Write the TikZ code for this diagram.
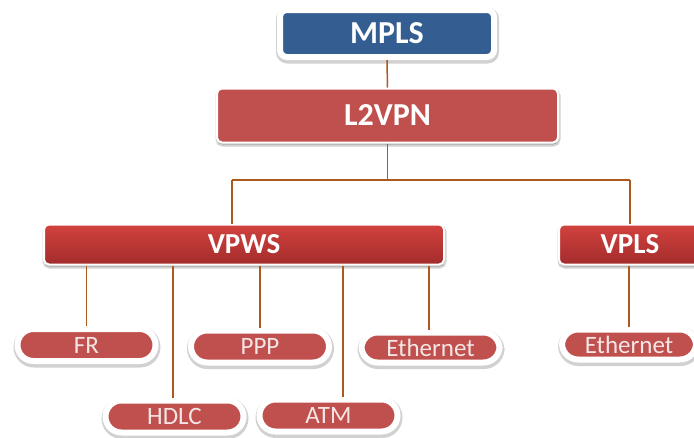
\documentclass[tikz,border=0pt]{standalone}
\usepackage{fontspec}
\setmainfont{Carlito}
\usetikzlibrary{shadows}
\definecolor{mplsblue}{RGB}{52,94,145}
\definecolor{boxred}{RGB}{192,80,77}
\definecolor{gradtop}{RGB}{210,66,62}
\definecolor{gradbot}{RGB}{163,44,44}
\definecolor{pilltext}{RGB}{245,230,230}
\definecolor{linkbrown}{RGB}{172,88,30}
\tikzset{
  myshadow/.style={drop shadow={shadow xshift=0.5pt, shadow yshift=-2pt, opacity=0.18, fill=black, draw=black, line width=#1}},
  topbox/.style={rounded corners=5pt, draw=white, text=white, inner sep=0pt,
    font=\bfseries\fontsize{32}{32}\selectfont},
  midbox/.style={myshadow=4pt, rounded corners=5pt, draw=white, line width=2pt, text=white, inner sep=0pt,
    top color=gradtop, bottom color=gradbot, minimum height=40pt,
    font=\bfseries\fontsize{29}{29}\selectfont},
  pill/.style={myshadow=9pt, rounded corners=16pt, draw=white, line width=6pt, fill=boxred,
    text=pilltext, inner sep=0pt, minimum width=138pt, minimum height=32pt,
    font=\fontsize{25}{25}\selectfont},
  link/.style={draw=linkbrown, line width=1.5pt}
}
\begin{document}
\begin{tikzpicture}[x=1pt,y=-1pt]
\useasboundingbox (0,0) rectangle (694,437);
\clip (0,0) rectangle (694,437);
\node[topbox, myshadow=9pt, fill=mplsblue, line width=6pt, rounded corners=7pt, minimum width=214pt, minimum height=47pt] (mpls) at (387,33.5) {MPLS};
\node[topbox, myshadow=4pt, fill=boxred, line width=2pt, minimum width=341pt, minimum height=54pt] (l2vpn) at (387.5,115.5) {L2VPN};
\node[midbox, minimum width=400pt] (vpws) at (244,244.5) {VPWS};
\node[midbox, minimum width=142pt] (vpls) at (630,244.5) {VPLS};
\node[pill] (fr) at (86.5,345) {FR};
\node[pill] (ppp) at (260,346.5) {PPP};
\node[pill, minimum height=30pt] (eth1) at (430.5,347.5) {Ethernet};
\node[pill] (hdlc) at (174.5,416.5) {HDLC};
\node[pill] (atm) at (328.5,415.5) {ATM};
\node[pill, minimum height=30pt, minimum width=134pt] (eth2) at (629,344.5) {Ethernet};
\coordinate (ja) at (232,180);
\coordinate (jb) at (630,180);
\coordinate (xh) at (173,0);
\coordinate (xa) at (343,0);
\coordinate (xe) at (429,0);
\draw[link] (mpls.south) -- (l2vpn.north);
\draw[link] (l2vpn.south) -- (l2vpn.south |- ja);
\draw[link] (ja) -- (jb);
\draw[link] (ja) -- (ja |- vpws.north);
\draw[link] (jb) -- (jb |- vpls.north);
\draw[link] (vpws.south -| fr.north) -- (fr.north);
\draw[link] (vpws.south -| xh) -- (xh |- hdlc.north);
\draw[link] (vpws.south -| ppp.north) -- (ppp.north);
\draw[link] (vpws.south -| xa) -- (xa |- atm.north);
\draw[link] (vpws.south -| xe) -- (xe |- eth1.north);
\draw[link] (vpls.south -| eth2.north) -- (eth2.north);
\end{tikzpicture}
\end{document}
